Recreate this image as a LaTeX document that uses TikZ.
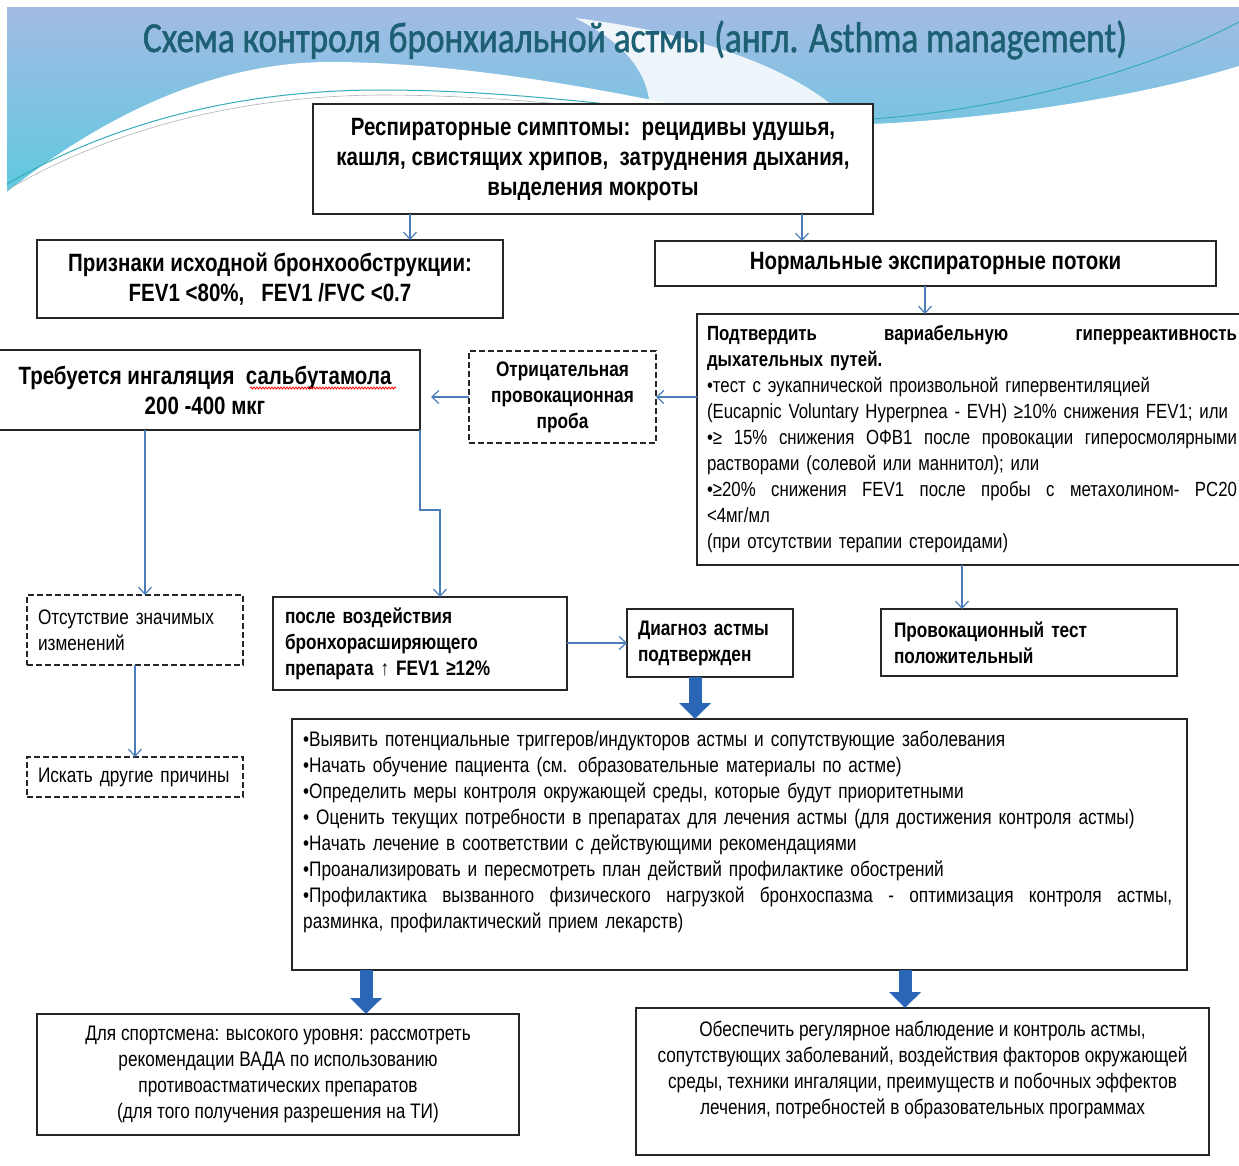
\documentclass[tikz,border=0pt]{standalone}
\usepackage{fontspec}
\setmainfont{Liberation Sans}[FakeStretch=0.82]
\newfontfamily\titlefont{Carlito}[FakeStretch=0.82, FakeBold=1.2]
\usetikzlibrary{arrows.meta,calc,decorations.pathmorphing}

\definecolor{arrblue}{HTML}{4A7EBB}
\definecolor{fatblue}{HTML}{2A66B5}
\definecolor{titleteal}{HTML}{1D5F73}
\definecolor{bandtop}{HTML}{A3BBE4}
\definecolor{bandcyan}{HTML}{5CCADF}

\newcommand\fbig{\fontsize{25}{30}\selectfont\bfseries}
\newcommand\fmid{\fontsize{21}{26}\selectfont\bfseries}
\newcommand\fsmall{\fontsize{21}{26}\selectfont}
\newcommand\fnote{\fontsize{20.5}{26}\selectfont}
\newcommand\fillline[2]{{\spaceskip=0.3em plus 10em\relax\makebox[#1][s]{#2}}}

\tikzset{
  box/.style={draw=black!85, line width=1.3pt, fill=white, inner sep=0pt, outer sep=0pt},
  dbox/.style={box, dash pattern=on 6pt off 3pt},
  arr/.style={draw=arrblue, line width=1.2pt, -{Straight Barb[length=7pt,width=13pt]}},
  fat/.style={draw=fatblue, line width=13pt, -{Triangle[length=16pt,width=31pt]}},
}

\begin{document}
\begin{tikzpicture}[x=1pt,y=-1pt]
  \useasboundingbox (0,0) rectangle (1239,1165);
  \clip (0,0) rectangle (1239,1165);
  \fill[white] (0,0) rectangle (1239,1165);

  % header band
  \fill[top color=bandtop, bottom color=bandcyan] (7,7) rectangle (1239,200);
  \fill[white] (7,192) .. controls (110,110) and (220,62) .. (330,62)
    .. controls (470,62) and (640,95) .. (770,126)
    .. controls (950,128) and (1130,100) .. (1239,66)
    -- (1239,205) -- (7,205) -- cycle;
  \fill[white, opacity=.85] (575,18) .. controls (690,32) and (790,66) .. (840,112)
    -- (650,112) .. controls (650,70) and (620,40) .. cycle;
  \draw[bandcyan!60!teal, line width=1pt] (7,184) .. controls (120,118) and (250,90) .. (380,90)
    .. controls (520,90) and (650,110) .. (770,122)
    .. controls (950,126) and (1130,80) .. (1239,22);
  \draw[gray!60, line width=.6pt] (7,190) .. controls (120,124) and (250,96) .. (380,95)
    .. controls (520,95) and (650,114) .. (770,127);

  \node[font={\titlefont\fontsize{43}{48}\selectfont}, text=titleteal] (title) at (635,40)
    {Схема контроля бронхиальной астмы (англ. Asthma management)};

  % boxes
  \node[box, minimum width=560pt, minimum height=110pt, align=center, font=\fbig] (symp) at (593,159)
    {Респираторные симптомы:\ \ рецидивы удушья,\\кашля, свистящих хрипов,\ \ затруднения дыхания,\\выделения мокроты};
  \node[box, minimum width=466pt, minimum height=78pt, align=center, font=\fbig] (obstr) at (270,279)
    {Признаки исходной бронхообструкции:\\FEV1 <80\%,\ \ \ FEV1 /FVC <0.7};
  \node[box, minimum width=561pt, minimum height=45pt, font=\fbig] (norm) at (935.5,263.5)
    {Нормальные экспираторные потоки};
  \node[box, minimum width=550pt, minimum height=251pt, text width=530pt, align=left, font=\fnote] (confirm) at (972,439.5)
    {{\bfseries\fillline{530pt}{Подтвердить вариабельную гиперреактивность}\\
     дыхательных путей.}\\
     •тест с эукапнической произвольной гипервентиляцией\\
     (Eucapnic Voluntary Hyperpnea - EVH) ≥10\% снижения FEV1; или\\
     \fillline{530pt}{•≥ 15\% снижения ОФВ1 после провокации гиперосмолярными}\\
     растворами (солевой или маннитол); или\\
     \fillline{530pt}{•≥20\% снижения FEV1 после пробы с метахолином- PC20}\\
     <4мг/мл\\
     (при отсутствии терапии стероидами)};
  \node[box, minimum width=430pt, minimum height=80pt, align=center, font=\fbig] (salb) at (205,390)
    {Требуется ингаляция\ \ сальбутамола\\200 -400 мкг};
  \node[dbox, minimum width=187pt, minimum height=92pt, align=center, font=\fmid] (neg) at (562.5,397)
    {Отрицательная\\провокационная\\проба};
  \node[dbox, minimum width=216pt, minimum height=70pt, text width=194pt, align=left, font=\fsmall] (none) at (135,630)
    {Отсутствие значимых\\изменений};
  \node[dbox, minimum width=216pt, minimum height=40pt, text width=194pt, align=left, font=\fsmall] (other) at (135,777)
    {Искать другие причины};
  \node[box, minimum width=294pt, minimum height=93pt, text width=270pt, align=left, font=\fmid] (after) at (420,643.5)
    {после воздействия\\бронхорасширяющего\\препарата ↑ FEV1 ≥12\%};
  \node[box, minimum width=166pt, minimum height=68pt, text width=144pt, align=left, font=\fmid] (diag) at (710,643)
    {Диагноз астмы\\подтвержден};
  \node[box, minimum width=296pt, minimum height=67pt, text width=270pt, align=left, font=\fmid] (pos) at (1029,642.5)
    {Провокационный тест\\положительный};
  \node[box, minimum width=895pt, minimum height=251pt] (plan) at (739.5,844.5) {};
  \node[anchor=north west, inner sep=0pt, text width=869pt, align=left, font=\fsmall] (plantext) at ($(plan.north west)+(11,12)$)
    {•Выявить потенциальные триггеров/индукторов астмы и сопутствующие заболевания\\
     •Начать обучение пациента (см. образовательные материалы по астме)\\
     •Определить меры контроля окружающей среды, которые будут приоритетными\\
     • Оценить текущих потребности в препаратах для лечения астмы (для достижения контроля астмы)\\
     •Начать лечение в соответствии с действующими рекомендациями\\
     •Проанализировать и пересмотреть план действий профилактике обострений\\
     \fillline{869pt}{•Профилактика вызванного физического нагрузкой бронхоспазма - оптимизация контроля астмы,}\\
     разминка, профилактический прием лекарств)};
  \node[box, minimum width=482pt, minimum height=121pt, align=center, font=\fsmall] (sport) at (278,1074.5)
    {Для спортсмена: высокого уровня: рассмотреть\\рекомендации ВАДА по использованию\\противоастматических препаратов\\(для того получения разрешения на ТИ)};
  \node[box, minimum width=573pt, minimum height=147pt] (follow) at (922.5,1081.5) {};
  \node[inner sep=0pt, align=center, font=\fsmall] (followtext) at ($(follow.center)+(0,-12)$)
    {Обеспечить регулярное наблюдение и контроль астмы,\\сопутствующих заболеваний, воздействия факторов окружающей\\среды, техники ингаляции, преимуществ и побочных эффектов\\лечения, потребностей в образовательных программах};

  % spell-check mark
  \draw[red, line width=.8pt, decorate, decoration={snake, amplitude=1pt, segment length=3pt}] (250,388) -- (396,388);

  % guides for the connectors
  \coordinate (x410) at (410,0);
  \coordinate (x802) at (802,0);
  \coordinate (x925) at (925,0);
  \coordinate (x145) at (145,0);
  \coordinate (x962) at (962,0);
  \coordinate (x695) at (695,0);
  \coordinate (x366) at (366,0);
  \coordinate (x905) at (905,0);
  \coordinate (bend) at (440,510);

  \draw[arr] (symp.south -| x410) -- (obstr.north -| x410);
  \draw[arr] (symp.south -| x802) -- (norm.north -| x802);
  \draw[arr] (norm.south -| x925) -- (confirm.north -| x925);
  \draw[arr] (confirm.west |- neg.east) -- (neg.east);
  \draw[arr, shorten >=11pt] (neg.west) -- (salb.east |- neg.west);
  \draw[arr] (salb.south -| x145) -- (none.north -| x145);
  \draw[arr] (salb.south east) -- (salb.south east |- bend) -- (bend) -- (after.north -| bend);
  \draw[arr] (none.south) -- (other.north);
  \draw[arr] (after.east |- diag.west) -- (diag.west);
  \draw[arr] (confirm.south -| x962) -- (pos.north -| x962);

  \draw[fat] (diag.south -| x695) -- (plan.north -| x695);
  \draw[fat] (plan.south -| x366) -- (sport.north -| x366);
  \draw[fat] (plan.south -| x905) -- (follow.north -| x905);
\end{tikzpicture}
\end{document}
